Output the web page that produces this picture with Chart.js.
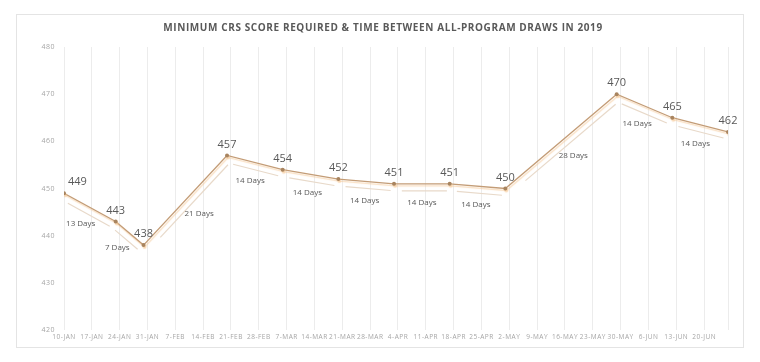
<!DOCTYPE html>
<html>
<head>
<meta charset="utf-8">
<script src="https://cdn.jsdelivr.net/npm/chart.js@4.4.1/dist/chart.umd.min.js"></script>
<style>
  html,body{margin:0;padding:0;background:#fff;}
  #wrap{position:relative;width:760px;height:362px;}
</style>
</head>
<body>
<div id="wrap"><canvas id="crsChart" width="760" height="362"></canvas></div>
<script>
const chartTitle = 'MINIMUM CRS SCORE REQUIRED & TIME BETWEEN ALL-PROGRAM DRAWS IN 2019';
const drawDates = ['2019-01-10','2019-01-23','2019-01-30','2019-02-20','2019-03-06','2019-03-20',
                   '2019-04-03','2019-04-17','2019-05-01','2019-05-29','2019-06-12','2019-06-26'];
const minScores = [449, 443, 438, 457, 454, 452, 451, 451, 450, 470, 465, 462];
const weekLabels = ['10-JAN','17-JAN','24-JAN','31-JAN','7-FEB','14-FEB','21-FEB','28-FEB',
                    '7-MAR','14-MAR','21-MAR','28-MAR','4-APR','11-APR','18-APR','25-APR',
                    '2-MAY','9-MAY','16-MAY','23-MAY','30-MAY','6-JUN','13-JUN','20-JUN'];
const yTicks = [420, 430, 440, 450, 460, 470, 480];

const DAY = 86400000;
const t0 = Date.parse(drawDates[0]);
const dayOffsets = drawDates.map(d => Math.round((Date.parse(d) - t0) / DAY));
const points = dayOffsets.map((x, i) => ({x: x, y: minScores[i]}));

// chart-area border + letter spacing for axis text
const framePlugin = {
  id: 'frame',
  beforeDraw(chart){
    const ctx = chart.ctx;
    ctx.save();
    ctx.fillStyle = '#fff';
    ctx.fillRect(0, 0, chart.width, chart.height);
    ctx.strokeStyle = '#e4e4e4';
    ctx.lineWidth = 1;
    ctx.strokeRect(16.5, 14.5, 727, 333);
    ctx.restore();
    ctx.letterSpacing = '0.5px';
  },
  beforeDatasetsDraw(chart){
    chart.ctx.letterSpacing = '0px';
  },
  // soft glow under the main line
  beforeDatasetDraw(chart){
    const ctx = chart.ctx;
    ctx.save();
    ctx.shadowColor = 'rgba(245,200,150,0.6)';
    ctx.shadowOffsetX = 1;
    ctx.shadowOffsetY = 2;
    ctx.shadowBlur = 1;
  },
  afterDatasetDraw(chart){
    chart.ctx.restore();
  },
  afterDraw(chart){
    const ctx = chart.ctx;
    const xs = chart.scales.x, ys = chart.scales.y;
    const px = points.map(p => [xs.getPixelForValue(p.x), ys.getPixelForValue(p.y)]);

    // interval connectors and "N Days" labels
    ctx.save();
    for(let i=0;i<px.length-1;i++){
      const [x1,y1] = px[i], [x2,y2] = px[i+1];
      const dx = x2-x1, dy = y2-y1, len = Math.hypot(dx,dy);
      let nx = -dy/len, ny = dx/len;
      if(ny < 0){ nx = -nx; ny = -ny; }
      const off = 7, a = 0.14, b = 0.95;
      ctx.strokeStyle = '#e8d9c9';
      ctx.lineWidth = 1.2;
      ctx.beginPath();
      ctx.moveTo(x1 + dx*a + nx*off, y1 + dy*a + ny*off);
      ctx.lineTo(x1 + dx*b + nx*off, y1 + dy*b + ny*off);
      ctx.stroke();

      const gap = dayOffsets[i+1] - dayOffsets[i];
      const lx = (x1+x2)/2 + nx*19, ly = (y1+y2)/2 + ny*19;
      ctx.font = '8px "Open Sans"';
      ctx.fillStyle = '#595959';
      ctx.textAlign = 'center';
      ctx.textBaseline = 'middle';
      ctx.fillText(gap + ' Days', lx, ly);
    }

    // score labels
    ctx.font = '11px "Open Sans"';
    ctx.fillStyle = '#595959';
    ctx.textBaseline = 'middle';
    px.forEach(([x,y], i) => {
      if(i === 0){ ctx.textAlign = 'left'; ctx.fillText(minScores[i], x + 4, y - 11); }
      else { ctx.textAlign = 'center'; ctx.fillText(minScores[i], x, y - 11); }
    });

    // title
    ctx.font = 'bold 10px "Open Sans"';
    ctx.letterSpacing = '0.6px';
    ctx.fillStyle = '#595959';
    ctx.textAlign = 'center';
    ctx.fillText(chartTitle, 383, 28);
    ctx.restore();
  }
};

new Chart(document.getElementById('crsChart').getContext('2d'), {
  type: 'line',
  data: {
    datasets: [{
      data: points,
      borderColor: '#c39c76',
      borderWidth: 1.3,
      pointRadius: 2,
      pointBackgroundColor: '#a8845f',
      pointBorderColor: '#a8845f',
      pointBorderWidth: 0,
      tension: 0,
      fill: false
    }]
  },
  options: {
    responsive: false,
    animation: false,
    events: [],
    layout: {padding: {left: 16, right: 32, top: 47, bottom: 18}},
    plugins: {legend: {display: false}, title: {display: false}, tooltip: {enabled: false}},
    scales: {
      x: {
        type: 'linear',
        min: 0,
        max: dayOffsets[dayOffsets.length-1],
        afterFit(s){ s.height = 14; },
        afterBuildTicks(s){
          s.ticks = weekLabels.map((l, i) => ({value: i*7}))
            .concat([{value: dayOffsets[dayOffsets.length-1]}]);
        },
        ticks: {
          autoSkip: false,
          maxRotation: 0,
          padding: 3,
          color: '#a6a6a6',
          font: {size: 6.5, family: '"Open Sans"'},
          callback: v => (v % 7 === 0 && weekLabels[v/7]) ? weekLabels[v/7] : ''
        },
        grid: {color: '#ececec', lineWidth: 1, drawTicks: false},
        border: {display: false}
      },
      y: {
        min: 420,
        max: 480,
        afterFit(s){ s.width = 48; },
        afterBuildTicks(s){ s.ticks = yTicks.map(v => ({value: v})); },
        ticks: {
          padding: 9,
          color: '#a6a6a6',
          font: {size: 7, family: '"Open Sans"'}
        },
        grid: {display: false, drawTicks: false},
        border: {display: false}
      }
    }
  },
  plugins: [framePlugin]
});
</script>
</body>
</html>
